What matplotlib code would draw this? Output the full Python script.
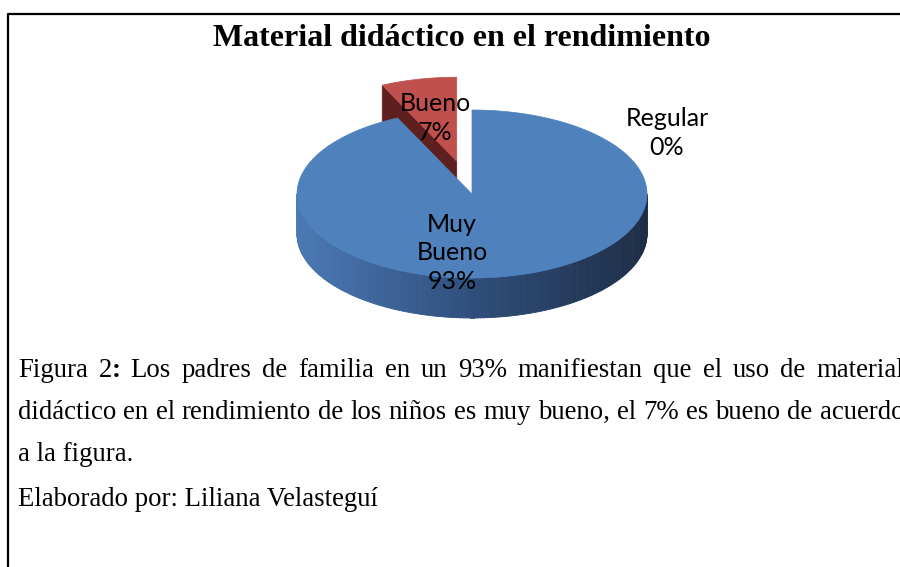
import numpy as np
import matplotlib
matplotlib.use('Agg')
import matplotlib.pyplot as plt
from matplotlib.patches import Polygon
from matplotlib.collections import PolyCollection
from matplotlib.colors import to_rgb

# data
categories = ['Muy Bueno', 'Bueno', 'Regular']
percents = [93, 7, 0]
pie_labels = ['Muy\nBueno\n93%', 'Bueno\n7%', 'Regular\n0%']
title = 'Material didáctico en el rendimiento'
caption_lines = [
    'Figura 2: Los padres de familia en un 93% manifiestan que el uso de material',
    'didáctico en el rendimiento de los niños es muy bueno, el 7% es bueno de acuerdo',
    'a la figura.',
    'Elaborado por: Liliana Velasteguí',
]
justified = [True, True, False, False]

# layout (pixels, y down)
W, H = 900, 567
cx, cy = 472, 194
ra, rb = 175, 84
depth = 40
explode = [0.0, 0.4, 0.0]
top_colors = ['#4f81bd', '#c0504d', '#9bbb59']
cut_colors = ['#2c4a76', '#5e1f1e', '#5e7a2e']
side_left = np.array(to_rgb('#4a79b4'))
side_mid = np.array(to_rgb('#2f4e7c'))
side_right = np.array(to_rgb('#1d2d45'))
label_pos = [(452, 253), (435, 118), (667, 133)]


def rim(theta, ox=0.0, oy=0.0):
    t = np.radians(theta)
    return cx + ox + ra * np.sin(t), cy + oy - rb * np.cos(t)


def side_color(x):
    u = (x - (cx - ra)) / (2 * ra)
    if u < 0.5:
        return side_left + (side_mid - side_left) * (u / 0.5)
    return side_mid + (side_right - side_mid) * ((u - 0.5) / 0.5)


fig = plt.figure(figsize=(9, 5.67), dpi=100)
ax = fig.add_axes([0, 0, 1, 1])
ax.set_xlim(0, W)
ax.set_ylim(H, 0)
ax.axis('off')

# frame
ax.plot([8, 8, W + 5], [H + 5, 14, 14], color='black', lw=1.6, solid_capstyle='projecting')

ax.text(462, 46, title, ha='center', va='baseline', fontsize=23,
        fontweight='bold', family='Liberation Serif')

# slice angles, clockwise from 12 o'clock
total = float(sum(percents))
bounds = np.concatenate([[0], np.cumsum(percents)]) / total * 360

draw_order = [1, 0]  # exploded slice behind
for i in draw_order:
    a0, a1 = bounds[i], bounds[i + 1]
    if a1 - a0 <= 0:
        continue
    mid = np.radians((a0 + a1) / 2)
    ox = explode[i] * ra * np.sin(mid)
    oy = -explode[i] * rb * np.cos(mid)
    ctr = (cx + ox, cy + oy)

    # radial cut faces facing the viewer
    for ang, sign in ((a0, 1), (a1, -1)):
        normal = np.radians(ang - 90 * sign)
        if np.cos(normal) < -0.05 and explode[i] > 0:
            px, py = rim(ang, ox, oy)
            quad = [ctr, (px, py), (px, py + depth), (ctr[0], ctr[1] + depth)]
            ax.add_patch(Polygon(quad, closed=True, fc=cut_colors[i], ec=cut_colors[i], lw=0.5))

    # outer wall (front half)
    lo, hi = max(a0, 90), min(a1, 270)
    if hi > lo:
        th = np.linspace(lo, hi, 160)
        quads, cols = [], []
        for t1, t2 in zip(th[:-1], th[1:]):
            x1, y1 = rim(t1, ox, oy)
            x2, y2 = rim(t2, ox, oy)
            quads.append([(x1, y1), (x2, y2), (x2, y2 + depth), (x1, y1 + depth)])
            c = side_color((x1 + x2) / 2)
            if i != 0:
                c = np.array(to_rgb(cut_colors[i]))
            cols.append(c)
        ax.add_collection(PolyCollection(quads, facecolors=cols, edgecolors=cols, linewidths=0.6))

    # top face
    th = np.linspace(a0, a1, 200)
    xs, ys = rim(th, ox, oy)
    pts = [ctr] + list(zip(xs, ys))
    ax.add_patch(Polygon(pts, closed=True, fc=top_colors[i], ec=top_colors[i], lw=0.5))

# labels
for lab, (lx, ly) in zip(pie_labels, label_pos):
    ax.text(lx, ly, lab, ha='center', va='center', fontsize=18, family='Lato',
            linespacing=1.3, color='black')

# caption, justified lines placed word by word
renderer = fig.canvas.get_renderer()
baselines = [377, 419, 461, 506]
left, right = 18, 904
fs = 19.3


def word_width(word, weight='normal'):
    t = ax.text(0, 0, word, fontsize=fs, family='Liberation Serif', fontweight=weight)
    bb = t.get_window_extent(renderer=renderer)
    t.remove()
    return bb.width


for line, just, yb in zip(caption_lines, justified, baselines):
    if not just:
        ax.text(left, yb, line, fontsize=fs, family='Liberation Serif', va='baseline')
        continue
    words = line.split(' ')
    widths = [word_width(w) for w in words]
    gap = (right - left - sum(widths)) / (len(words) - 1)
    x = left
    for w, wd in zip(words, widths):
        if w == '2:':
            ax.text(x, yb, '2', fontsize=fs, family='Liberation Serif', va='baseline')
            ax.text(x + word_width('2'), yb, ':', fontsize=fs, family='Liberation Serif',
                    fontweight='bold', va='baseline')
        else:
            ax.text(x, yb, w, fontsize=fs, family='Liberation Serif', va='baseline')
        x += wd + gap

fig.savefig('out.png', dpi=100)
